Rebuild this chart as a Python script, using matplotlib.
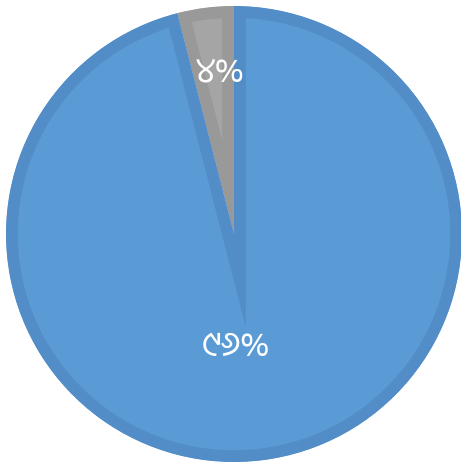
import matplotlib
matplotlib.use("Agg")
import matplotlib.pyplot as plt
import numpy as np

labels = ["୪%", "୯୬%"]
values = [4, 96]
colors = ["#A5A5A5", "#5B9BD5"]
edgecolors = ["#999999", "#538DC8"]
# label placement (layout only): axes-fraction positions
label_pos = [(0.47, 0.852), (0.505, 0.252)]

fig = plt.figure(figsize=(4.61, 4.73), dpi=100)
R = 228
cx, cy = 234, 473 - 234
ax = fig.add_axes([(cx - R) / 461, (cy - R) / 473, 2 * R / 461, 2 * R / 473])
wedges, _ = ax.pie(values, colors=colors, startangle=90, counterclock=True,
                   radius=1.0,
                   wedgeprops=dict(linewidth=17, joinstyle="miter"))
for w, ec in zip(wedges, edgecolors):
    w.set_edgecolor(ec)
    w.set_clip_on(True)
    w.set_clip_path(w)
for lab, (px, py) in zip(labels, label_pos):
    ax.text(px, py, lab, transform=ax.transAxes, ha="center", va="center",
            color="white", fontsize=25,
            family=["Noto Sans Oriya", "Noto Sans", "DejaVu Sans"])
ax.set_xlim(-1, 1)
ax.set_ylim(-1, 1)
ax.set_aspect("equal")
ax.axis("off")
fig.savefig("out.png", dpi=100)
